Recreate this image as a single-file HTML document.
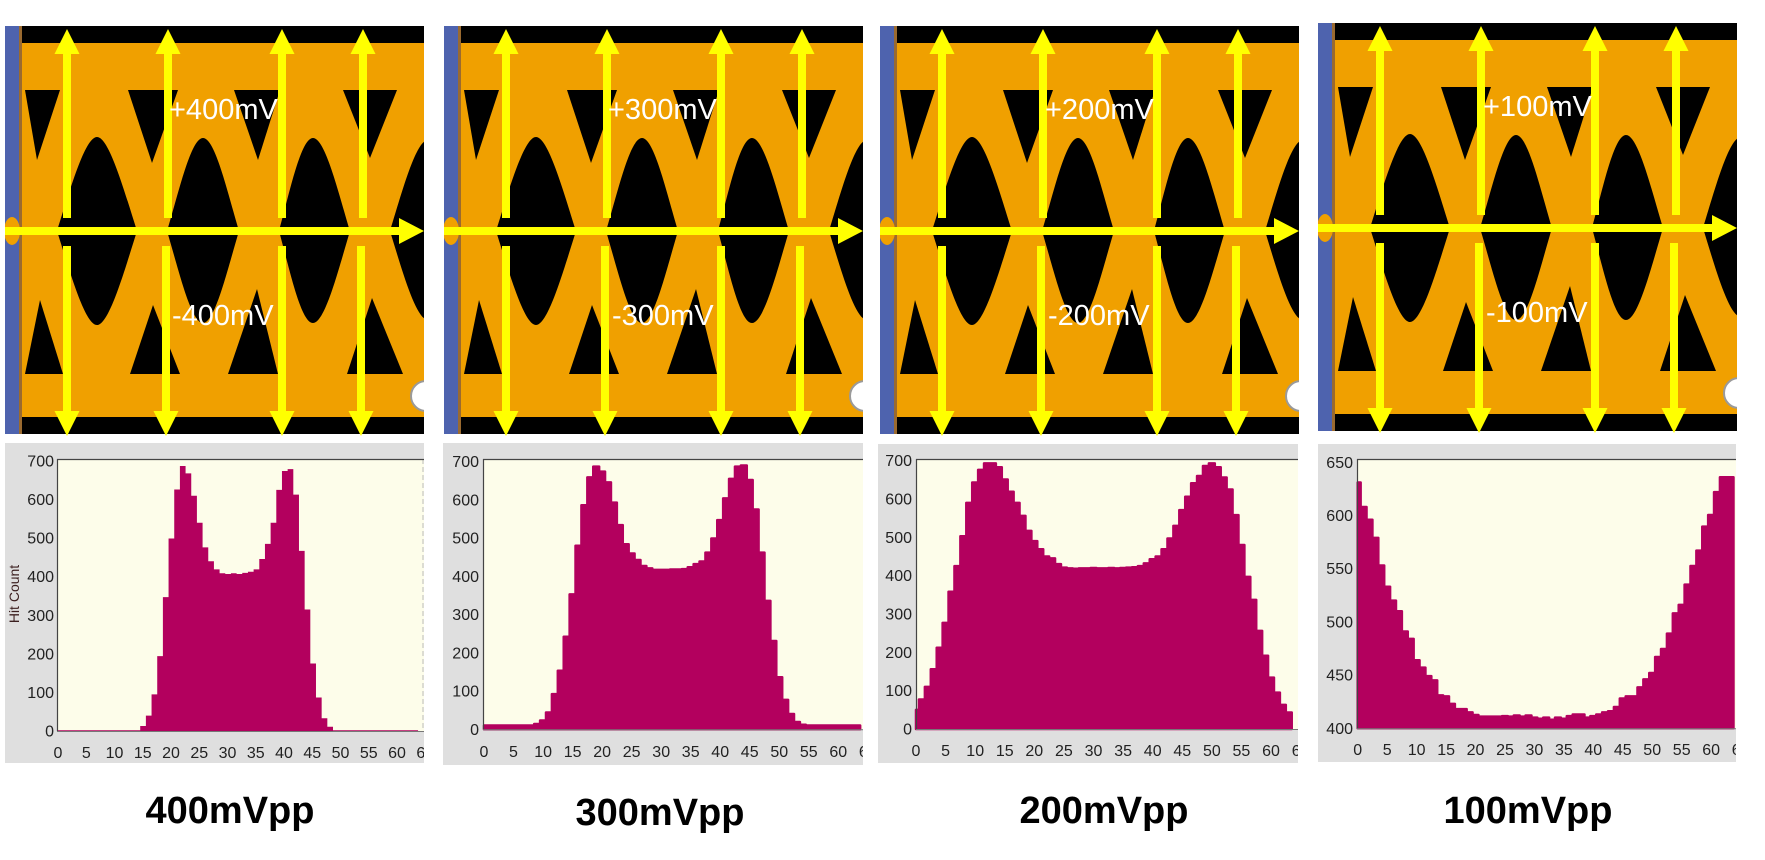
<!DOCTYPE html>
<html><head><meta charset="utf-8"><style>
html,body{margin:0;padding:0;background:#fff;}
svg{display:block;}
</style></head><body>
<svg width="1765" height="860" viewBox="0 0 1765 860" xmlns="http://www.w3.org/2000/svg">
<defs>
<clipPath id="ec"><rect x="5" y="26" width="419" height="408"/></clipPath>
<clipPath id="hc1"><rect x="5" y="443" width="419" height="320"/></clipPath>
<clipPath id="hc2"><rect x="443" y="443" width="420" height="322"/></clipPath>
<clipPath id="hc3"><rect x="878" y="444" width="420" height="319"/></clipPath>
<clipPath id="hc4"><rect x="1318" y="444" width="418" height="318"/></clipPath>
<g id="eye">
 <g clip-path="url(#ec)">
  <rect x="5" y="26" width="419" height="408" fill="#000"/>
  <rect x="22" y="43" width="402" height="374" fill="#f0a000"/>
  <g fill="#000">
   <path d="M25,90 L60,90 L37,160 Z"/>
   <path d="M128,90 L178,90 L152,163 Z"/>
   <path d="M234,90 L280,90 L258,160 Z"/>
   <path d="M343,90 L397,90 L370,158 Z"/>
   <path d="M25,374 L63,374 L40,300 Z"/>
   <path d="M130,374 L180,374 L153,305 Z"/>
   <path d="M228,374 L278,374 L257,289 Z"/>
   <path d="M347,374 L403,374 L372,298 Z"/>
   <path d="M57,231 C70,190 85,137 97,137 C109,137 124,190 137,231 C124,272 109,325 97,325 C85,325 70,272 57,231 Z"/>
   <path d="M167,231 C179,191 191,138 203,138 C215,138 227,191 239,231 C227,271 215,323 203,323 C191,323 179,271 167,231 Z"/>
   <path d="M279,231 C290,191 301,138 313,138 C325,138 338,191 350,231 C338,271 325,323 313,323 C301,323 290,271 279,231 Z"/>
   <path d="M390,231 C402,192 416,140 428,140 C440,140 454,192 466,231 C454,270 440,320 428,320 C416,320 402,270 390,231 Z"/>
  </g>
  <rect x="5" y="26" width="14" height="408" fill="#4e63ae"/>
  <rect x="19" y="26" width="3" height="408" fill="#9a6a30"/>
  <ellipse cx="12" cy="231" rx="8" ry="14" fill="#f0a000"/>
  <circle cx="426" cy="396" r="15" fill="#fff" stroke="#9a9a9a" stroke-width="2"/>
 </g>
 <g fill="#ffff00">
  <rect x="5" y="227" width="396" height="8"/>
  <polygon points="399,218 424,231 399,244"/>
  <rect x="63" y="50" width="8" height="168"/><polygon points="54.5,54 67,29 79.5,54"/>
  <rect x="164" y="50" width="8" height="168"/><polygon points="155.5,54 168,29 180.5,54"/>
  <rect x="278" y="50" width="8" height="168"/><polygon points="269.5,54 282,29 294.5,54"/>
  <rect x="359" y="50" width="8" height="168"/><polygon points="350.5,54 363,29 375.5,54"/>
  <rect x="63" y="246" width="8" height="168"/><polygon points="54.5,411 67,436 79.5,411"/>
  <rect x="162" y="246" width="8" height="168"/><polygon points="153.5,411 166,436 178.5,411"/>
  <rect x="278" y="246" width="8" height="168"/><polygon points="269.5,411 282,436 294.5,411"/>
  <rect x="357" y="246" width="8" height="168"/><polygon points="348.5,411 361,436 373.5,411"/>
 </g>
</g>
</defs>

<use href="#eye"/>
<use href="#eye" transform="translate(439,0)"/>
<use href="#eye" transform="translate(875,0)"/>
<use href="#eye" transform="translate(1313,-3)"/>

<g font-family="Liberation Sans, Arial, sans-serif" font-size="29" fill="#fff">
 <text x="169" y="119">+400mV</text>
 <text x="172" y="325">-400mV</text>
 <text x="608" y="119">+300mV</text>
 <text x="612" y="325">-300mV</text>
 <text x="1045" y="119">+200mV</text>
 <text x="1048" y="325">-200mV</text>
 <text x="1483" y="116">+100mV</text>
 <text x="1486" y="322">-100mV</text>
</g>

<!-- Histogram 1 -->
<g clip-path="url(#hc1)">
 <rect x="5" y="443" width="419" height="320" fill="#dfdfdf"/>
 <rect x="57" y="459" width="367" height="272" fill="#fdfdea"/>
 <path transform="translate(58,731) scale(5.67,-0.3857)" fill="#b3005e" d="M0,0 V2 H14.5 V13 H15.5 V40 H16.5 V95 H17.5 V194 H18.5 V347 H19.5 V499 H20.5 V626 H21.5 V687 H22.5 V668 H23.5 V610 H24.5 V540 H25.5 V476 H26.5 V440 H27.5 V419 H28.5 V409 H29.5 V407 H30.5 V409 H31.5 V407 H32.5 V410 H33.5 V413 H34.5 V419 H35.5 V446 H36.5 V485 H37.5 V540 H38.5 V625 H39.5 V674 H40.5 V679 H41.5 V613 H42.5 V467 H43.5 V315 H44.5 V175 H45.5 V87 H46.5 V33 H47.5 V11 H48.5 V2 H63.5 V0 Z"/>
 <line x1="423" y1="459" x2="423" y2="731" stroke="#bbb" stroke-width="1" stroke-dasharray="5,3"/>
 <line x1="57" y1="459.5" x2="424" y2="459.5" stroke="#444" stroke-width="1.2"/>
 <line x1="57.5" y1="459" x2="57.5" y2="731" stroke="#444" stroke-width="1.2"/>
 <line x1="57" y1="731.5" x2="424" y2="731.5" stroke="#777" stroke-width="1"/>
 <g font-family="Liberation Sans, Arial, sans-serif" font-size="16" fill="#222" text-anchor="end">
  <text x="54" y="736.5">0</text><text x="54" y="698">100</text><text x="54" y="659.4">200</text><text x="54" y="620.8">300</text><text x="54" y="582.2">400</text><text x="54" y="543.7">500</text><text x="54" y="505.1">600</text><text x="54" y="466.5">700</text>
 </g>
 <g font-family="Liberation Sans, Arial, sans-serif" font-size="16" fill="#222" text-anchor="middle">
  <text x="58" y="758">0</text><text x="86.3" y="758">5</text><text x="114.5" y="758">10</text><text x="142.8" y="758">15</text><text x="171" y="758">20</text><text x="199.3" y="758">25</text><text x="227.5" y="758">30</text><text x="255.8" y="758">35</text><text x="284" y="758">40</text><text x="312.3" y="758">45</text><text x="340.5" y="758">50</text><text x="368.8" y="758">55</text><text x="397" y="758">60</text><text x="425.3" y="758">65</text>
 </g>
 <text transform="rotate(-90 19 594)" x="19" y="594" font-family="Liberation Sans, Arial, sans-serif" font-size="14" fill="#3b1f1f" text-anchor="middle">Hit Count</text>
</g>

<!-- Histogram 2 -->
<g clip-path="url(#hc2)">
 <rect x="443" y="443" width="420" height="322" fill="#dfdfdf"/>
 <rect x="483" y="459" width="380" height="270" fill="#fdfdea"/>
 <path transform="translate(484,729.3) scale(5.905,-0.3823)" fill="#b3005e" stroke="#b3005e" stroke-width="2.5" vector-effect="non-scaling-stroke" stroke-linejoin="round" d="M0,0 V10 H8.5 V14 H9.5 V23 H10.5 V44 H11.5 V92 H12.5 V153 H13.5 V242 H14.5 V353 H15.5 V480 H16.5 V586 H17.5 V659 H18.5 V687 H19.5 V674 H20.5 V646 H21.5 V593 H22.5 V534 H23.5 V484 H24.5 V460 H25.5 V443 H26.5 V427 H27.5 V421 H28.5 V417 H31.5 V418 H33.5 V419 H34.5 V424 H35.5 V432 H36.5 V439 H37.5 V462 H38.5 V499 H39.5 V547 H40.5 V604 H41.5 V655 H42.5 V687 H43.5 V690 H44.5 V652 H45.5 V575 H46.5 V462 H47.5 V336 H48.5 V231 H49.5 V136 H50.5 V77 H51.5 V40 H52.5 V19 H53.5 V12 H54.5 V10 H63.7 V0 Z"/>
 <line x1="483" y1="459.5" x2="863" y2="459.5" stroke="#444" stroke-width="1.2"/>
 <line x1="483.5" y1="459" x2="483.5" y2="729" stroke="#444" stroke-width="1.2"/>
 <line x1="483" y1="729.8" x2="863" y2="729.8" stroke="#777" stroke-width="1"/>
 <g font-family="Liberation Sans, Arial, sans-serif" font-size="16" fill="#222" text-anchor="end">
  <text x="479" y="734.8">0</text><text x="479" y="696.6">100</text><text x="479" y="658.3">200</text><text x="479" y="620.1">300</text><text x="479" y="581.9">400</text><text x="479" y="543.7">500</text><text x="479" y="505.4">600</text><text x="479" y="467.2">700</text>
 </g>
 <g font-family="Liberation Sans, Arial, sans-serif" font-size="16" fill="#222" text-anchor="middle">
  <text x="484" y="757">0</text><text x="513.5" y="757">5</text><text x="543.1" y="757">10</text><text x="572.6" y="757">15</text><text x="602.1" y="757">20</text><text x="631.6" y="757">25</text><text x="661.2" y="757">30</text><text x="690.7" y="757">35</text><text x="720.2" y="757">40</text><text x="749.7" y="757">45</text><text x="779.3" y="757">50</text><text x="808.8" y="757">55</text><text x="838.3" y="757">60</text><text x="867.8" y="757">65</text>
 </g>
</g>

<!-- Histogram 3 -->
<g clip-path="url(#hc3)">
 <rect x="878" y="444" width="420" height="319" fill="#dfdfdf"/>
 <rect x="916" y="459" width="382" height="270" fill="#fdfdea"/>
 <path transform="translate(916,729) scale(5.917,-0.3833)" fill="#b3005e" stroke="#b3005e" stroke-width="2.5" vector-effect="non-scaling-stroke" stroke-linejoin="round" d="M0,0 V50 H0.5 V77 H1.5 V110 H2.5 V156 H3.5 V212 H4.5 V277 H5.5 V358 H6.5 V425 H7.5 V503 H8.5 V590 H9.5 V643 H10.5 V676 H11.5 V693 H13.5 V683 H14.5 V651 H15.5 V619 H16.5 V590 H17.5 V556 H18.5 V517 H19.5 V490 H20.5 V469 H21.5 V450 H22.5 V445 H23.5 V430 H24.5 V421 H25.5 V419 H26.5 V418 H27.5 V419 H29.5 V420 H30.5 V419 H32.5 V420 H33.5 V419 H34.5 V420 H35.5 V421 H36.5 V422 H37.5 V425 H38.5 V432 H39.5 V443 H40.5 V450 H41.5 V469 H42.5 V497 H43.5 V530 H44.5 V571 H45.5 V606 H46.5 V641 H47.5 V660 H48.5 V686 H49.5 V693 H50.5 V683 H51.5 V656 H52.5 V625 H53.5 V558 H54.5 V480 H55.5 V397 H56.5 V337 H57.5 V256 H58.5 V191 H59.5 V134 H60.5 V95 H61.5 V63 H62.5 V43 H63.5 V0 Z"/>
 <line x1="916" y1="459.5" x2="1298" y2="459.5" stroke="#444" stroke-width="1.2"/>
 <line x1="916.5" y1="459" x2="916.5" y2="729" stroke="#444" stroke-width="1.2"/>
 <line x1="916" y1="729.5" x2="1298" y2="729.5" stroke="#777" stroke-width="1"/>
 <g font-family="Liberation Sans, Arial, sans-serif" font-size="16" fill="#222" text-anchor="end">
  <text x="912" y="734.5">0</text><text x="912" y="696.2">100</text><text x="912" y="657.8">200</text><text x="912" y="619.5">300</text><text x="912" y="581.2">400</text><text x="912" y="542.9">500</text><text x="912" y="504.5">600</text><text x="912" y="466.2">700</text>
 </g>
 <g font-family="Liberation Sans, Arial, sans-serif" font-size="16" fill="#222" text-anchor="middle">
  <text x="916" y="756">0</text><text x="945.6" y="756">5</text><text x="975.2" y="756">10</text><text x="1004.8" y="756">15</text><text x="1034.3" y="756">20</text><text x="1063.9" y="756">25</text><text x="1093.5" y="756">30</text><text x="1123.1" y="756">35</text><text x="1152.7" y="756">40</text><text x="1182.3" y="756">45</text><text x="1211.9" y="756">50</text><text x="1241.4" y="756">55</text><text x="1271" y="756">60</text><text x="1300.6" y="756">65</text>
 </g>
</g>

<!-- Histogram 4 -->
<g clip-path="url(#hc4)">
 <rect x="1318" y="444" width="418" height="318" fill="#dfdfdf"/>
 <rect x="1357" y="459" width="379" height="269.3" fill="#fdfdea"/>
 <path transform="translate(1357.7,728.3) scale(5.89,-1.064) translate(0,-400)" fill="#b3005e" stroke="#b3005e" stroke-width="2.5" vector-effect="non-scaling-stroke" stroke-linejoin="round" d="M0,400 V631 H0.5 V608 H1.5 V596 H2.5 V579 H3.5 V553 H4.5 V533 H5.5 V520 H6.5 V510 H7.5 V491 H8.5 V484 H9.5 V464 H10.5 V457 H11.5 V449 H12.5 V445 H13.5 V431 H14.5 V430 H15.5 V423 H16.5 V418 H18.5 V415 H19.5 V412.5 H20.5 V411 H24.5 V411.5 H25.5 V411 H26.5 V412 H27.5 V411 H28.5 V412 H29.5 V410 H30.5 V409 H31.5 V410 H32.5 V408 H33.5 V410 H34.5 V409 H35.5 V411.5 H36.5 V413 H38.5 V410 H39.5 V411.5 H40.5 V413 H41.5 V415 H42.5 V416 H43.5 V420 H44.5 V428 H45.5 V430 H47.5 V438.5 H48.5 V446 H49.5 V452 H50.5 V467 H51.5 V474.5 H52.5 V489 H53.5 V508 H54.5 V516 H55.5 V535 H56.5 V552.5 H57.5 V567 H58.5 V589.5 H59.5 V600.5 H60.5 V622 H61.5 V636 H63.8 V400 Z"/>
 <line x1="1357" y1="459.5" x2="1736" y2="459.5" stroke="#444" stroke-width="1.2"/>
 <line x1="1357.5" y1="459" x2="1357.5" y2="729" stroke="#444" stroke-width="1.2"/>
 <line x1="1357" y1="728.8" x2="1736" y2="728.8" stroke="#777" stroke-width="1"/>
 <g font-family="Liberation Sans, Arial, sans-serif" font-size="16" fill="#222" text-anchor="end">
  <text x="1353" y="733.8">400</text><text x="1353" y="680.6">450</text><text x="1353" y="627.4">500</text><text x="1353" y="574.2">550</text><text x="1353" y="521">600</text><text x="1353" y="467.8">650</text>
 </g>
 <g font-family="Liberation Sans, Arial, sans-serif" font-size="16" fill="#222" text-anchor="middle">
  <text x="1357.7" y="755">0</text><text x="1387.2" y="755">5</text><text x="1416.6" y="755">10</text><text x="1446.1" y="755">15</text><text x="1475.5" y="755">20</text><text x="1505" y="755">25</text><text x="1534.4" y="755">30</text><text x="1563.9" y="755">35</text><text x="1593.3" y="755">40</text><text x="1622.8" y="755">45</text><text x="1652.2" y="755">50</text><text x="1681.7" y="755">55</text><text x="1711.1" y="755">60</text><text x="1740.6" y="755">65</text>
 </g>
</g>

<g font-family="Liberation Sans, Arial, sans-serif" font-size="38" font-weight="bold" fill="#000" text-anchor="middle">
 <text x="230" y="823">400mVpp</text>
 <text x="660" y="825">300mVpp</text>
 <text x="1104" y="823">200mVpp</text>
 <text x="1528" y="823">100mVpp</text>
</g>
</svg>
</body></html>
